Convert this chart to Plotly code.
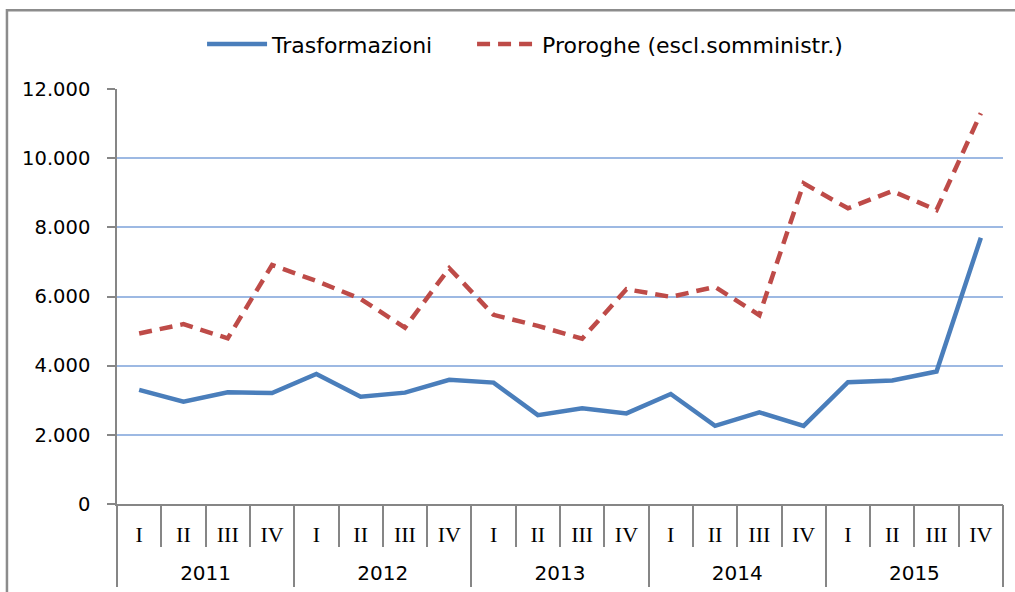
import plotly.graph_objects as go

years = ["2011", "2012", "2013", "2014", "2015"]
quarters = ["I", "II", "III", "IV"]

trasformazioni = [3300, 2960, 3230, 3210, 3760, 3100, 3220, 3590, 3510, 2570,
                  2770, 2620, 3180, 2260, 2650, 2260, 3520, 3570, 3830, 7700]
proroghe = [4930, 5200, 4790, 6910, 6450, 5930, 5100, 6820, 5470, 5150,
            4780, 6210, 5990, 6280, 5460, 9270, 8550, 9050, 8500, 11300]

cats = [f"{y} {q}" for y in years for q in quarters]
q_text = [q for y in years for q in quarters]
nq = len(quarters)
year_centers = [i * nq + (nq - 1) / 2 for i in range(len(years))]
year_bounds = [i * nq - 0.5 for i in range(len(years) + 1)]

GRAY = "#868686"

fig = go.Figure()
fig.add_trace(go.Scatter(x=cats, y=trasformazioni, mode="lines", name="Trasformazioni",
                         legendwidth=195,
                         line=dict(color="#4A7EBB", width=4.5)))
fig.add_trace(go.Scatter(x=cats, y=proroghe, mode="lines", name="Proroghe (escl.somministr.)",
                         legendwidth=320,
                         line=dict(color="#BE4B48", width=4.5, dash="13px,8px")))
fig.add_trace(go.Scatter(x=year_centers, y=[None] * len(years), xaxis="x2", yaxis="y",
                         mode="lines", showlegend=False, hoverinfo="skip"))

fig.update_layout(
    width=1015, height=592,
    margin=dict(l=117, r=12, t=89, b=88),
    paper_bgcolor="white", plot_bgcolor="white",
    separators=",.",
    font=dict(family="DejaVu Sans", size=20, color="#000000"),
    showlegend=True,
    legend=dict(orientation="h", x=0.096, xanchor="left", y=1.108, yanchor="middle",
                font=dict(size=22), itemwidth=60, bgcolor="rgba(0,0,0,0)"),
    yaxis=dict(range=[0, 12000], dtick=2000, tickformat=",d", showgrid=True,
               gridcolor="#9DB9E3", gridwidth=1.5, showline=True, linecolor=GRAY,
               linewidth=1.5, ticks="outside", ticklen=8, tickcolor=GRAY, tickwidth=1.5,
               ticklabelstandoff=13, zeroline=False, tickfont=dict(size=19.5),
               automargin=False),
    xaxis=dict(type="category", categoryorder="array", categoryarray=cats,
               range=[-0.5, len(cats) - 0.5], showline=True, linecolor=GRAY, linewidth=1.5,
               ticks="outside", tickson="boundaries", ticklen=41, tickcolor=GRAY,
               tickwidth=1.5, tickmode="array", tickvals=cats, ticktext=q_text,
               tickfont=dict(family="Liberation Serif", size=22),
               ticklabelstandoff=10, showgrid=False, automargin=False),
    xaxis2=dict(type="linear", overlaying="x", anchor="y", side="bottom",
                range=[-0.5, len(cats) - 0.5], showline=False, showgrid=False,
                zeroline=False, tickmode="array", tickvals=year_centers, ticktext=years,
                ticks="", tickfont=dict(family="DejaVu Sans", size=20),
                ticklabelstandoff=55,
                minor=dict(ticks="outside", ticklen=82, tickcolor=GRAY, tickwidth=1.5,
                           tickmode="array", tickvals=year_bounds, showgrid=False),
                automargin=False),
    shapes=[dict(type="rect", xref="paper", yref="paper", x0=-0.1242, x1=1.02,
                 y0=-0.3, y1=1.19, line=dict(color="#8C8C8C", width=2.5), layer="below")],
)

fig.write_html("out.html", config={"displayModeBar": False},
               post_script="document.body.style.margin='0';")
